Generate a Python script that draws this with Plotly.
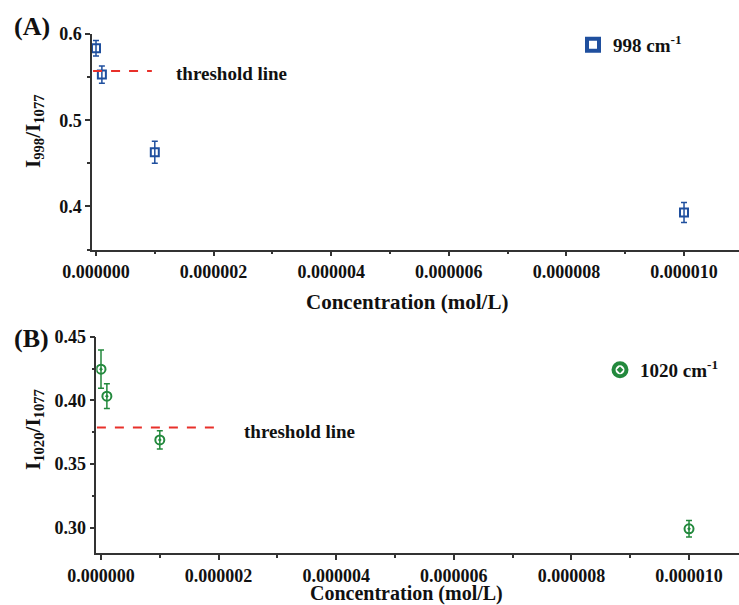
import plotly.graph_objects as go

# ---- data ----
conc = [0.0, 1e-7, 1e-6, 1e-5]
ratio_998 = [0.5834, 0.5529, 0.4628, 0.3930]
err_998 = [0.0090, 0.0099, 0.0128, 0.0116]
ratio_1020 = [0.4245, 0.4033, 0.3690, 0.2992]
err_1020 = [0.0150, 0.0097, 0.0071, 0.0065]

threshold_998 = 0.557
threshold_998_x = [-5e-8, 9.5e-7]
threshold_1020 = 0.3787
threshold_1020_x = [-7e-8, 2.05e-6]

x_ticks = [0, 2e-6, 4e-6, 6e-6, 8e-6, 1e-5]
x_ticklabels = ["0.000000", "0.000002", "0.000004", "0.000006", "0.000008", "0.000010"]
yA_ticks = [0.4, 0.5, 0.6]
yA_ticklabels = ["0.4", "0.5", "0.6"]
yB_ticks = [0.30, 0.35, 0.40, 0.45]
yB_ticklabels = ["0.30", "0.35", "0.40", "0.45"]

BLUE = "#1f4f9e"
GREEN = "#23893d"
RED = "#e8302a"
FONT = "Liberation Serif"
W, H = 739, 605

fig = go.Figure()

# Panel A
fig.add_trace(go.Scatter(
    x=conc, y=ratio_998, mode="markers",
    marker=dict(symbol="square-open", size=8, color=BLUE, line=dict(width=2, color=BLUE)),
    error_y=dict(type="data", array=err_998, color=BLUE, thickness=1.5, width=3),
    xaxis="x", yaxis="y", showlegend=False))
fig.add_trace(go.Scatter(
    x=[None], y=[None], mode="markers", name="998 cm<sup>-1</sup>",
    marker=dict(symbol="square-open", size=12, color=BLUE, line=dict(width=4, color=BLUE)),
    xaxis="x", yaxis="y", legend="legend"))
fig.add_trace(go.Scatter(
    x=threshold_998_x, y=[threshold_998] * 2, mode="lines",
    line=dict(color=RED, width=2, dash="dash"), xaxis="x", yaxis="y",
    showlegend=False, hoverinfo="skip"))

# Panel B
fig.add_trace(go.Scatter(
    x=conc, y=ratio_1020, mode="markers",
    marker=dict(symbol="circle-open-dot", size=9, color=GREEN, line=dict(width=2, color=GREEN)),
    error_y=dict(type="data", array=err_1020, color=GREEN, thickness=1.5, width=3),
    xaxis="x2", yaxis="y2", showlegend=False))
fig.add_trace(go.Scatter(
    x=[None], y=[None], mode="markers", name="1020 cm<sup>-1</sup>",
    marker=dict(symbol="circle-open-dot", size=13, color=GREEN, line=dict(width=4, color=GREEN)),
    xaxis="x2", yaxis="y2", legend="legend2"))
fig.add_trace(go.Scatter(
    x=threshold_1020_x, y=[threshold_1020] * 2, mode="lines",
    line=dict(color=RED, width=2, dash="dash"), xaxis="x2", yaxis="y2",
    showlegend=False, hoverinfo="skip"))

tickfont = dict(family=FONT, size=18, color="#111111", weight="bold")
axis_common = dict(
    showline=True, linecolor="#333333", linewidth=1.5, showgrid=False, zeroline=False,
    ticks="outside", ticklen=5, tickwidth=1.5, tickcolor="#333333",
    tickfont=tickfont, mirror=False, automargin=False,
)
minor_common = dict(ticks="outside", ticklen=3, tickwidth=1.5, tickcolor="#333333")

fig.update_layout(
    template="none",
    width=W, height=H, autosize=False,
    margin=dict(l=0, r=0, t=0, b=0, pad=0),
    paper_bgcolor="white", plot_bgcolor="white",
    font=dict(family=FONT, color="#111111"),
    xaxis=dict(domain=[92 / W, 1], range=[-6.8e-8, 1.0935e-5], anchor="y",
               tickvals=x_ticks, ticktext=x_ticklabels,
               minor=dict(dtick=1e-6, tick0=0, **minor_common), **axis_common),
    yaxis=dict(domain=[1 - 249.5 / H, 1 - 34 / H], range=[0.35, 0.6], anchor="x",
               tickvals=yA_ticks, ticktext=yA_ticklabels,
               minor=dict(dtick=0.05, tick0=0, **minor_common), **axis_common),
    xaxis2=dict(domain=[96.3 / W, 1], range=[-8e-8, 1.085e-5], anchor="y2",
                tickvals=x_ticks, ticktext=x_ticklabels,
                minor=dict(dtick=1e-6, tick0=0, **minor_common), **axis_common),
    yaxis2=dict(domain=[1 - 553.3 / H, 1 - 336.7 / H], range=[0.28, 0.45], anchor="x2",
                tickvals=yB_ticks, ticktext=yB_ticklabels,
                minor=dict(dtick=0.025, tick0=0, **minor_common), **axis_common),
    legend=dict(x=573 / W, y=1 - 45 / H, xanchor="left", yanchor="middle",
                bgcolor="rgba(0,0,0,0)", borderwidth=0,
                font=dict(family=FONT, size=19, weight="bold", color="#111111")),
    legend2=dict(x=600 / W, y=1 - 370 / H, xanchor="left", yanchor="middle",
                 bgcolor="rgba(0,0,0,0)", borderwidth=0,
                 font=dict(family=FONT, size=19, weight="bold", color="#111111")),
)

ann_font = dict(family=FONT, color="#111111", weight="bold")
annotations = [
    # threshold labels
    dict(x=1.33e-6, y=threshold_998, xref="x", yref="y", text="threshold line",
         showarrow=False, xanchor="left", yanchor="middle", yshift=-2,
         font=dict(size=19, **ann_font)),
    dict(x=2.40e-6, y=threshold_1020, xref="x2", yref="y2", text="threshold line",
         showarrow=False, xanchor="left", yanchor="middle", yshift=-4,
         font=dict(size=19, **ann_font)),
    # panel labels
    dict(x=12 / W, y=1 - 27 / H, xref="paper", yref="paper", text="(A)",
         showarrow=False, xanchor="left", yanchor="middle", font=dict(size=26, **ann_font)),
    dict(x=12 / W, y=1 - 338 / H, xref="paper", yref="paper", text="(B)",
         showarrow=False, xanchor="left", yanchor="middle", font=dict(size=26, **ann_font)),
    # x titles
    dict(x=407 / W, y=1 - 302 / H, xref="paper", yref="paper", text="Concentration (mol/L)",
         showarrow=False, xanchor="center", yanchor="middle", font=dict(size=21, **ann_font)),
    dict(x=407 / W, y=1 - 593.5 / H, xref="paper", yref="paper", text="Concentration (mol/L)",
         showarrow=False, xanchor="center", yanchor="middle", font=dict(size=20, **ann_font)),
    # y titles
    dict(x=34 / W, y=1 - 131 / H, xref="paper", yref="paper", text="I<sub>998</sub>/I<sub>1077</sub>",
         showarrow=False, xanchor="center", yanchor="middle", textangle=-90, font=dict(size=21, **ann_font)),
    dict(x=34 / W, y=1 - 430 / H, xref="paper", yref="paper", text="I<sub>1020</sub>/I<sub>1077</sub>",
         showarrow=False, xanchor="center", yanchor="middle", textangle=-90, font=dict(size=21, **ann_font)),
]
fig.update_layout(annotations=annotations)

fig.write_html("out.html",
               config={"displayModeBar": False},
               post_script="document.body.style.margin='0';document.body.style.padding='0';")
